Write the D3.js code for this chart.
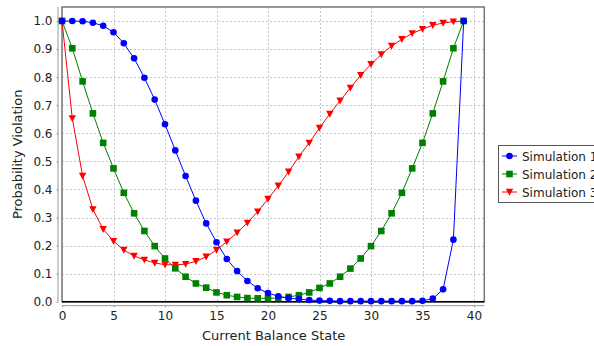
<!DOCTYPE html>
<html>
<head>
<meta charset="utf-8">
<script src="https://cdn.jsdelivr.net/npm/d3@7"></script>
<style>
  body { margin: 0; background: #fff; }
  svg { display: block; font-family: "DejaVu Sans", sans-serif; }
</style>
</head>
<body>
<svg id="chart" width="594" height="346"></svg>
<script>
// balance states 0..39
const states = d3.range(0, 40);

const sim1 = [1.0, 1.0, 0.999, 0.994, 0.983, 0.960, 0.921, 0.867, 0.798, 0.720,
  0.632, 0.539, 0.448, 0.360, 0.279, 0.212, 0.152, 0.109, 0.074, 0.048,
  0.031, 0.019, 0.013, 0.009, 0.006, 0.004, 0.003, 0.002, 0.002, 0.002,
  0.002, 0.002, 0.002, 0.002, 0.002, 0.003, 0.011, 0.044, 0.221, 1.0];

const sim2 = [1.0, 0.903, 0.785, 0.671, 0.566, 0.475, 0.388, 0.315, 0.252, 0.198,
  0.154, 0.119, 0.089, 0.065, 0.050, 0.033, 0.023, 0.017, 0.013, 0.012,
  0.012, 0.013, 0.017, 0.023, 0.033, 0.049, 0.065, 0.089, 0.118, 0.154,
  0.198, 0.252, 0.315, 0.388, 0.475, 0.566, 0.671, 0.785, 0.903, 1.0];

const sim3 = [1.0, 0.653, 0.448, 0.329, 0.258, 0.216, 0.184, 0.163, 0.149, 0.138,
  0.132, 0.131, 0.134, 0.144, 0.160, 0.184, 0.214, 0.246, 0.281, 0.321,
  0.366, 0.413, 0.463, 0.517, 0.566, 0.619, 0.669, 0.716, 0.762, 0.807,
  0.846, 0.881, 0.911, 0.935, 0.956, 0.971, 0.985, 0.993, 0.998, 1.0];

const seriesNames = ["Simulation 1", "Simulation 2", "Simulation 3"];
const seriesColors = ["#0000ff", "#008000", "#ff0000"];
const seriesShapes = ["circle", "square", "triangle"];
const seriesValues = [sim1, sim2, sim3];

const xTicks = [0, 5, 10, 15, 20, 25, 30, 35, 40];
const yTicks = [0, 0.1, 0.2, 0.3, 0.4, 0.5, 0.6, 0.7, 0.8, 0.9, 1.0];

const svg = d3.select("#chart");
const pLeft = 62, pRight = 484.3, pTop = 7, pBottom = 301.7;

const x = d3.scaleLinear().domain([0, 41]).range([pLeft, pRight]);
const y = d3.scaleLinear().domain([0, 1.05]).range([pBottom, pTop]);

// grid
const grid = svg.append("g").attr("stroke", "#c8c8c8").attr("stroke-dasharray", "2,2").attr("stroke-width", 1);
grid.selectAll(".vg").data(xTicks).join("line")
  .attr("x1", d => Math.round(x(d)) + 0.5).attr("x2", d => Math.round(x(d)) + 0.5)
  .attr("y1", pTop).attr("y2", pBottom);
grid.selectAll(".hg").data(yTicks).join("line")
  .attr("y1", d => Math.round(y(d)) + 0.5).attr("y2", d => Math.round(y(d)) + 0.5)
  .attr("x1", pLeft).attr("x2", pRight);

// axes, offset a bit from the plot like the original
const xAxis = d3.axisBottom(x).tickValues(xTicks).tickSize(2).tickPadding(4).tickFormat(d3.format("d"));
const gx = svg.append("g").attr("transform", `translate(0,${pBottom + 3.5})`).call(xAxis);
gx.select(".domain").attr("stroke", "#999").attr("d", `M${pLeft},0.5H${pRight}`);
gx.selectAll(".tick line").attr("stroke", "#999");
gx.selectAll("text").attr("font-size", 12).attr("fill", "#222").attr("font-family", "DejaVu Sans");

const yAxis = d3.axisLeft(y).tickValues(yTicks).tickSize(2).tickPadding(4).tickFormat(d3.format(".1f"));
const gy = svg.append("g").attr("transform", `translate(${pLeft - 3.5},0)`).call(yAxis);
gy.select(".domain").attr("stroke", "#999").attr("d", `M-0.5,${pTop}V${pBottom}`);
gy.selectAll(".tick line").attr("stroke", "#999");
gy.selectAll("text").attr("font-size", 12).attr("fill", "#222").attr("font-family", "DejaVu Sans");

// frame
svg.append("rect").attr("x", pLeft).attr("y", pTop).attr("width", pRight - pLeft).attr("height", pBottom - pTop)
  .attr("fill", "none").attr("stroke", "#777").attr("stroke-width", 1.5);
svg.append("line").attr("x1", pLeft).attr("x2", pRight).attr("y1", pBottom).attr("y2", pBottom)
  .attr("stroke", "#000").attr("stroke-width", 1.5);

// markers
function drawMarker(g, shape, color, cx, cy) {
  if (shape === "circle") {
    g.append("circle").attr("cx", cx).attr("cy", cy).attr("r", 3.3).attr("fill", color);
  } else if (shape === "square") {
    g.append("rect").attr("x", cx - 3.3).attr("y", cy - 3.3).attr("width", 6.6).attr("height", 6.6).attr("fill", color);
  } else {
    g.append("path").attr("d", `M${cx - 3.7},${cy - 3.2}L${cx + 3.7},${cy - 3.2}L${cx},${cy + 3.7}Z`).attr("fill", color);
  }
}

const line = d3.line().x((d, i) => x(states[i])).y(d => y(d));

// draw in reverse so Simulation 1 is on top
for (let s = seriesValues.length - 1; s >= 0; s--) {
  const g = svg.append("g");
  g.append("path").datum(seriesValues[s]).attr("d", line)
    .attr("fill", "none").attr("stroke", seriesColors[s]).attr("stroke-width", 1);
  seriesValues[s].forEach((v, i) => drawMarker(g, seriesShapes[s], seriesColors[s], x(states[i]), y(v)));
}

// axis titles
svg.append("text").attr("x", (pLeft + pRight) / 2 + 0.5).attr("y", 340)
  .attr("text-anchor", "middle").attr("font-size", 13).attr("fill", "#222")
  .text("Current Balance State");
svg.append("text").attr("transform", `translate(22,${(pTop + pBottom) / 2}) rotate(-90)`)
  .attr("text-anchor", "middle").attr("font-size", 13).attr("fill", "#222")
  .text("Probability Violation");

// legend
const lg = svg.append("g");
lg.append("rect").attr("x", 498.5).attr("y", 145.5).attr("width", 120).attr("height", 57)
  .attr("fill", "#fff").attr("stroke", "#555").attr("stroke-width", 1);
const rowY = [156, 174, 192];
seriesNames.forEach((name, i) => {
  lg.append("line").attr("x1", 502).attr("x2", 517).attr("y1", rowY[i]).attr("y2", rowY[i])
    .attr("stroke", seriesColors[i]).attr("stroke-width", 1);
  drawMarker(lg, seriesShapes[i], seriesColors[i], 509.5, rowY[i]);
  lg.append("text").attr("x", 522).attr("y", rowY[i] + 4.5).attr("font-size", 12).attr("fill", "#222").text(name);
});
</script>
</body>
</html>
